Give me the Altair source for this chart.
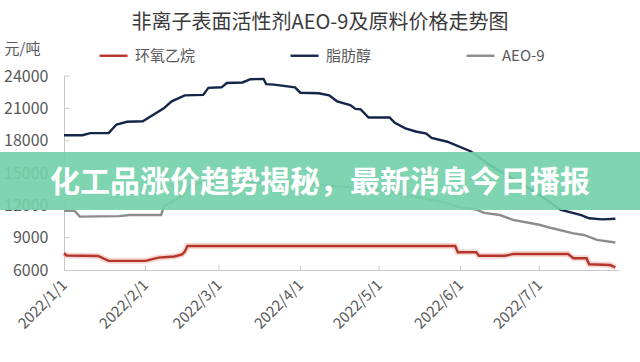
import altair as alt
import pandas as pd

TITLE = "非离子表面活性剂AEO-9及原料价格走势图"
UNIT = "元/吨"
BANNER = "化工品涨价趋势揭秘，最新消息今日播报"
SERIES = ["环氧乙烷", "脂肪醇", "AEO-9"]
COLORS = ["#b5372c", "#14254a", "#8c8c8c"]
WIDTHS = [2.4, 2.4, 1.3]

# 环氧乙烷
ea_dates = ["2022-01-01", "2022-01-02", "2022-01-14", "2022-01-18", "2022-02-01",
            "2022-02-06", "2022-02-12", "2022-02-15", "2022-02-16", "2022-02-17",
            "2022-05-30", "2022-05-31", "2022-06-07", "2022-06-08", "2022-06-18",
            "2022-06-21", "2022-07-12", "2022-07-14", "2022-07-19", "2022-07-20",
            "2022-07-28", "2022-07-30"]
ea_vals = [7550, 7350, 7300, 6850, 6850,
           7150, 7250, 7450, 7700, 8230,
           8230, 7650, 7650, 7320, 7320,
           7480, 7480, 7090, 7090, 6530,
           6460, 6250]

# 脂肪醇
fa_dates = ["2022-01-01", "2022-01-08", "2022-01-11", "2022-01-18", "2022-01-21",
            "2022-01-25", "2022-01-31", "2022-02-08", "2022-02-11", "2022-02-16",
            "2022-02-23", "2022-02-25", "2022-03-02", "2022-03-04", "2022-03-10",
            "2022-03-13", "2022-03-18", "2022-03-19", "2022-03-22", "2022-03-30",
            "2022-04-01", "2022-04-08", "2022-04-12", "2022-04-15", "2022-04-20",
            "2022-04-22", "2022-04-24", "2022-04-27", "2022-05-05", "2022-05-07",
            "2022-05-11", "2022-05-15", "2022-05-19", "2022-05-21", "2022-05-27",
            "2022-06-05", "2022-06-13", "2022-06-24", "2022-07-03", "2022-07-09",
            "2022-07-17", "2022-07-20", "2022-07-25", "2022-07-30"]
fa_vals = [18500, 18500, 18700, 18700, 19500,
           19750, 19800, 21000, 21650, 22200,
           22250, 22900, 22950, 23350, 23400,
           23700, 23720, 23250, 23200, 22950,
           22450, 22400, 22200, 21650, 21300,
           20950, 20900, 20150, 20150, 19650,
           19150, 18850, 18650, 18250, 17900,
           17000, 15600, 14050, 12650, 11600,
           11100, 10800, 10700, 10750]

# AEO-9
aeo_dates = ["2022-01-01", "2022-01-05", "2022-01-07", "2022-01-22", "2022-01-26",
             "2022-02-07", "2022-02-08", "2022-02-11", "2022-02-15", "2022-02-18",
             "2022-02-23", "2022-03-08", "2022-03-12", "2022-04-01", "2022-04-12",
             "2022-04-23", "2022-04-30", "2022-05-10", "2022-05-17", "2022-05-27",
             "2022-06-01", "2022-06-07", "2022-06-10", "2022-06-16", "2022-06-21",
             "2022-07-01", "2022-07-06", "2022-07-14", "2022-07-18", "2022-07-23",
             "2022-07-30"]
aeo_vals = [11500, 11500, 10950, 11000, 11100,
            11100, 11900, 12300, 12900, 13800,
            14200, 14200, 14100, 14050, 13850,
            13600, 13450, 13000, 12700, 12200,
            11800, 11600, 11300, 11100, 10650,
            10200, 9870, 9400, 9250, 8800,
            8550]

Y_TICKS = [6000, 9000, 12000, 15000, 18000, 21000, 24000]
MONTHS = [1, 2, 3, 4, 5, 6, 7]
X_TICK_DATES = ["2022-02-01", "2022-03-01", "2022-04-01", "2022-05-01", "2022-06-01", "2022-07-01"]

FONT = "Noto Sans CJK SC"
GREY_TXT = "#595959"
AXIS_LINE = "#c8c8c8"

frames = []
for name, ds, vs in [(SERIES[0], ea_dates, ea_vals),
                     (SERIES[1], fa_dates, fa_vals),
                     (SERIES[2], aeo_dates, aeo_vals)]:
    frames.append(pd.DataFrame({"date": ds, "value": vs, "series": name}))
df = pd.concat(frames, ignore_index=True)

x_scale = alt.Scale(type="utc", domain=[alt.DateTime(year=2022, month=1, date=1, utc=True),
                                        alt.DateTime(year=2022, month=7, date=31, utc=True)])
y_scale = alt.Scale(domain=[6000, 24000], nice=False, zero=False)

x_axis = alt.Axis(values=[alt.DateTime(year=2022, month=m, date=1, utc=True) for m in MONTHS],
                  format="%Y/%-m/%-d", labelAngle=-45, labelAlign="right",
                  labelBaseline="middle", labelPadding=12, title=None)
y_axis = alt.Axis(values=Y_TICKS, format="d", labelOverlap=False, labelFontSize=16,
                  title=UNIT, titleAngle=0, titleAlign="left", titleBaseline="middle",
                  titleX=-60, titleY=-28, labelPadding=16)

legend = alt.Legend(orient="none", legendX=34, legendY=-36, direction="horizontal",
                    title=None, symbolType="stroke", symbolSize=784,
                    labelFont=FONT, labelFontSize=15, labelColor=GREY_TXT,
                    labelOffset=6, columnPadding=89)

# soft halo under the red line (as in the source image)
halo = alt.Chart(df).transform_filter(
    alt.datum.series == SERIES[0]
).mark_line(color="#f2b8b0", strokeWidth=6, opacity=0.55).encode(
    x=alt.X("date:T", scale=x_scale, axis=x_axis),
    y=alt.Y("value:Q", scale=y_scale, axis=y_axis),
    order=alt.Order("date:T"),
)

lines = alt.Chart(df).mark_line(interpolate="linear").encode(
    x=alt.X("date:T", scale=x_scale, axis=x_axis),
    y=alt.Y("value:Q", scale=y_scale, axis=y_axis),
    color=alt.Color("series:N", scale=alt.Scale(domain=SERIES, range=COLORS), legend=legend),
    strokeWidth=alt.StrokeWidth("series:N", scale=alt.Scale(domain=SERIES, range=WIDTHS), legend=legend),
    order=alt.Order("date:T"),
)

# small inward tick marks on the axes
xt_df = pd.DataFrame({"date": X_TICK_DATES, "y0": 6000, "y1": 6450})
x_ticks = alt.Chart(xt_df).mark_rule(color=AXIS_LINE, strokeWidth=1).encode(
    x=alt.X("date:T", scale=x_scale, axis=x_axis),
    y=alt.Y("y0:Q", scale=y_scale, axis=y_axis),
    y2="y1:Q",
)

yt_df = pd.DataFrame({"y": Y_TICKS[1:], "x0": "2022-01-01", "x1": "2022-01-03"})
y_ticks = alt.Chart(yt_df).mark_rule(color=AXIS_LINE, strokeWidth=1).encode(
    x=alt.X("x0:T", scale=x_scale, axis=x_axis),
    x2="x1:T",
    y=alt.Y("y:Q", scale=y_scale, axis=y_axis),
)

banner_df = pd.DataFrame({"t": [BANNER]})
banner = alt.Chart(banner_df).mark_rect(fill="#74d0aa", opacity=0.92).encode(
    x=alt.value(-70), x2=alt.value(590), y=alt.value(76), y2=alt.value(134)
)
banner_text = alt.Chart(banner_df).mark_text(
    font=FONT, fontSize=30, fontWeight="bold", color="white", align="center", baseline="middle"
).encode(x=alt.value(256), y=alt.value(107), text="t:N")

chart = alt.layer(halo, lines, x_ticks, y_ticks, banner, banner_text).properties(
    width=554, height=194,
    autosize=alt.AutoSizeParams(type="none"),
    padding={"left": 64, "top": 76, "right": 22, "bottom": 92},
    background="white",
    title=alt.TitleParams(TITLE, font=FONT, fontSize=20, fontWeight="normal", color="#3a3a3a",
                          anchor="middle", frame="group", dx=-21, offset=7),
).configure_view(stroke=None).configure_axis(
    grid=False, ticks=False, domainColor=AXIS_LINE, domainWidth=1,
    labelFont=FONT, labelFontSize=15, labelColor=GREY_TXT,
    titleFont=FONT, titleFontSize=15, titleFontWeight="normal", titleColor=GREY_TXT,
)

chart.save("out.html", embed_options={"renderer": "svg", "actions": False})
